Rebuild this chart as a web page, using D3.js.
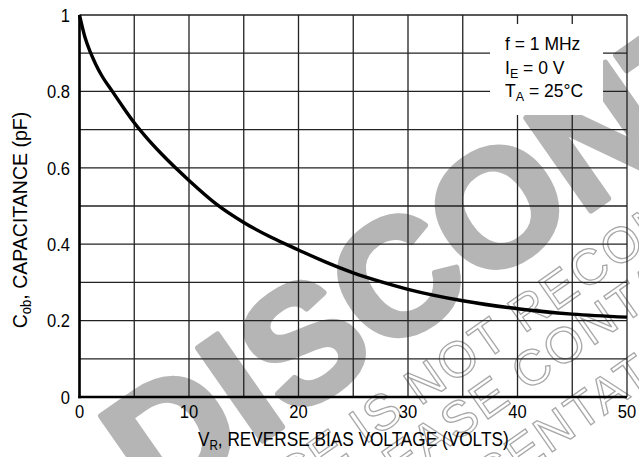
<!DOCTYPE html>
<html>
<head>
<meta charset="utf-8">
<title>Cob vs VR</title>
<script src="https://d3js.org/d3.v7.min.js"></script>
<style>
  body { margin: 0; background: #fff; }
</style>
</head>
<body>
<div id="chart"></div>
<script>
// values: reverse bias (V) -> Cob (pF)
let vr  = [0, 0.5, 1, 1.5, 2, 3, 4, 5, 6, 7.5, 10, 12.5, 15, 17.5, 20, 22.5, 25, 27.5, 30, 35, 40, 45, 50];
let cob = [1.0, 0.942, 0.902, 0.870, 0.843, 0.80, 0.758, 0.718, 0.683, 0.636, 0.567, 0.505, 0.457, 0.418, 0.385, 0.353, 0.325, 0.302, 0.282, 0.252, 0.231, 0.217, 0.209];

let xTicks = [0, 10, 20, 30, 40, 50];
let yTicks = [0, 0.2, 0.4, 0.6, 0.8, 1];
let yTickLabels = ["0", "0.2", "0.4", "0.6", "0.8", "1"];
let xGrid = [0, 5, 10, 15, 20, 25, 30, 35, 40, 45, 50];
let yGrid = [0, 0.1, 0.2, 0.3, 0.4, 0.5, 0.6, 0.7, 0.8, 0.9, 1];

// legend lines: [main, subscript, rest]
let legendLines = [["f = 1 MHz", "", ""], ["I", "E", " = 0 V"], ["T", "A", " = 25°C"]];

// watermark text
let stampWord = "DISCONTINUED";
let stampNotes = [
  "THIS DEVICE IS NOT RECOMMENDED FOR NEW DESIGN",
  "PLEASE CONTACT YOUR ON SEMICONDUCTOR",
  "REPRESENTATIVE FOR INFORMATION"
];

let W = 639, H = 457;
let margin = {top: 15, right: 12, bottom: 60, left: 79.5};
let font = "'Liberation Sans', Arial, sans-serif";

let svg = d3.select("#chart").append("svg")
    .attr("width", W).attr("height", H)
    .style("display", "block");

let x = d3.scaleLinear().domain([0, 50]).range([margin.left, W - margin.right]);
let y = d3.scaleLinear().domain([0, 1]).range([H - margin.bottom, margin.top]);

// condensed look: text squeezed horizontally inside its own group
function narrowText(parent, tx, ty, sx, rot) {
  return parent.append("g")
      .attr("transform", "translate(" + tx + "," + ty + ")" + (rot ? " rotate(" + rot + ")" : "") + " scale(" + sx + ",1)")
    .append("text")
      .attr("font-family", font);
}

// watermark (behind everything)
let wm = svg.append("g");
let ang = -35;

let bigSize = 164;
let big = narrowText(wm, 496, 205, 1, ang)
    .attr("font-weight", "bold")
    .attr("font-size", bigSize)
    .attr("fill", "#b5b5b5")
    .attr("stroke", "#b5b5b5")
    .attr("stroke-width", 6)
    .attr("stroke-linejoin", "round")
    .text(stampWord);
let bn = big.node();
big.attr("x", -(bn.getSubStringLength(0, 4) + bn.getSubStringLength(4, 1) / 2))
   .attr("y", 0.36 * bigSize);

// outlined note lines; each anchored at the centre of a chosen word
let noteAnchors = [
  {cx: 455, cy: 360, idx: 15, n: 3},
  {cx: 460, cy: 417, idx: 3, n: 3},
  {cx: 578, cy: 412, idx: 6, n: 5}
];
let noteSize = 50;
stampNotes.forEach(function(s, i) {
  let a = noteAnchors[i];
  let t = wm.append("g")
      .attr("transform", "translate(" + a.cx + "," + a.cy + ") rotate(" + ang + ")")
    .append("text")
      .attr("font-family", font)
      .attr("font-size", noteSize)
      .attr("letter-spacing", 2)
      .attr("fill", "none")
      .attr("stroke", "#a8a8a8")
      .attr("stroke-width", 1.3)
      .text(s);
  let tn = t.node();
  t.attr("x", -(tn.getSubStringLength(0, a.idx) + tn.getSubStringLength(a.idx, a.n) / 2))
   .attr("y", 0.36 * noteSize);
});

// grid
svg.append("g").selectAll("line")
  .data(xGrid).enter().append("line")
    .attr("x1", d => x(d)).attr("x2", d => x(d))
    .attr("y1", y(0)).attr("y2", y(1))
    .attr("stroke", "#222").attr("stroke-width", 1.3);

svg.append("g").selectAll("line")
  .data(yGrid).enter().append("line")
    .attr("x1", x(0)).attr("x2", x(50))
    .attr("y1", d => y(d)).attr("y2", d => y(d))
    .attr("stroke", "#222").attr("stroke-width", 1.3);

// heavy left and bottom axis lines
svg.append("line")
    .attr("x1", x(0)).attr("x2", x(0)).attr("y1", y(1)).attr("y2", y(0) + 1.3)
    .attr("stroke", "#000").attr("stroke-width", 2.6);
svg.append("line")
    .attr("x1", x(0) - 1.3).attr("x2", x(50)).attr("y1", y(0)).attr("y2", y(0))
    .attr("stroke", "#000").attr("stroke-width", 2.6);

// legend box knocks out the grid
svg.append("rect")
    .attr("x", 490).attr("y", 24).attr("width", 113).attr("height", 91)
    .attr("fill", "#fff");

let leg = svg.append("g")
    .attr("font-family", font)
    .attr("font-size", 17.5);
legendLines.forEach(function(l, i) {
  let t = leg.append("text").attr("x", 505).attr("y", 50 + i * 23.5);
  t.append("tspan").text(l[0]);
  if (l[1]) {
    t.append("tspan").attr("font-size", 12.5).attr("dy", 4).text(l[1]);
    t.append("tspan").attr("dy", -4).text(l[2]);
  }
});

// curve
let line = d3.line()
    .x(d => x(d[0]))
    .y(d => y(d[1]))
    .curve(d3.curveMonotoneX);
svg.append("path")
    .datum(vr.map((v, i) => [v, cob[i]]))
    .attr("d", line)
    .attr("fill", "none")
    .attr("stroke", "#000")
    .attr("stroke-width", 3.4);

// tick labels
let tickG = svg.append("g");
xTicks.forEach(function(d) {
  narrowText(tickG, x(d), 418, 0.87)
      .attr("text-anchor", "middle")
      .attr("font-size", 19)
      .text(d);
});
yTicks.forEach(function(d, i) {
  narrowText(tickG, 70, y(d), 0.87)
      .attr("dy", "0.36em")
      .attr("text-anchor", "end")
      .attr("font-size", 19)
      .text(yTickLabels[i]);
});

// axis titles
let xt = narrowText(svg, (x(0) + x(50)) / 2, 446, 0.84)
    .attr("text-anchor", "middle")
    .attr("font-size", 20.5);
xt.append("tspan").text("V");
xt.append("tspan").attr("font-size", 14).attr("dy", 4).text("R");
xt.append("tspan").attr("dy", -4).text(", REVERSE BIAS VOLTAGE (VOLTS)");

let yt = narrowText(svg, 27, 220, 0.93, -90)
    .attr("text-anchor", "middle")
    .attr("font-size", 21);
yt.append("tspan").text("C");
yt.append("tspan").attr("font-size", 14).attr("dy", 4).text("ob");
yt.append("tspan").attr("dy", -4).text(", CAPACITANCE (pF)");
</script>
</body>
</html>
